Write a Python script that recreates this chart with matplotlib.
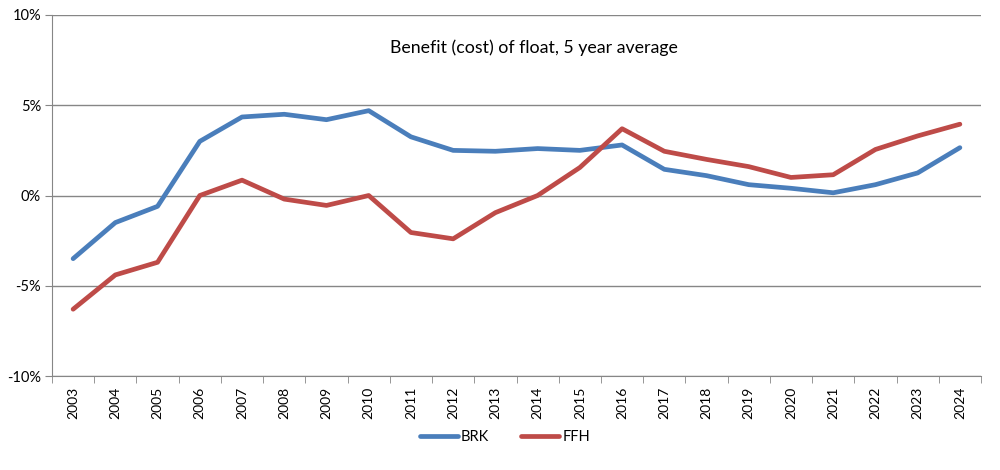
"""Benefit (cost) of float, 5 year average: BRK vs FFH."""
import matplotlib
import numpy as np

matplotlib.use("Agg")
from matplotlib import pyplot as plt
from matplotlib.ticker import FixedLocator, FuncFormatter

years = [str(y) for y in range(2003, 2025)]
brk = [-3.5, -1.5, -0.6, 3.0, 4.35, 4.5, 4.2, 4.7, 3.25, 2.5, 2.45,
       2.6, 2.5, 2.8, 1.45, 1.1, 0.6, 0.4, 0.15, 0.6, 1.25, 2.65]
ffh = [-6.3, -4.4, -3.7, 0.0, 0.85, -0.2, -0.55, 0.0, -2.05, -2.4, -0.95,
       0.0, 1.55, 3.7, 2.45, 2.0, 1.6, 1.0, 1.15, 2.55, 3.3, 3.95]
y_ticks = [-10, -5, 0, 5, 10]

plt.rcParams["font.family"] = ["Lato", "DejaVu Sans"]
grid_color = "#868686"

fig = plt.figure(figsize=(10, 4.7), dpi=100)
ax = fig.add_axes([0.052, 1 - 376 / 470, 0.929, 361 / 470])

x = np.arange(len(years))
ax.plot(x, brk, color="#4A7EBB", linewidth=3.4, label="BRK", solid_capstyle="round")
ax.plot(x, ffh, color="#BE4B48", linewidth=3.4, label="FFH", solid_capstyle="round")

ax.set_xlim(-0.5, len(years) - 0.5)
ax.set_ylim(-10, 10)
ax.set_yticks(y_ticks)
ax.yaxis.set_major_formatter(FuncFormatter(lambda v, _: f"{v:.0f}%"))
ax.set_xticks(x)
ax.set_xticklabels(years, rotation=90)
ax.xaxis.set_minor_locator(FixedLocator(np.arange(-0.5, len(years), 1.0)))
ax.tick_params(axis="x", which="major", length=0, pad=8, labelsize=10)
ax.tick_params(axis="x", which="minor", length=5, color=grid_color, direction="out")
ax.tick_params(axis="y", length=5, color=grid_color, labelsize=10.5, pad=3)

ax.grid(True, axis="y", color=grid_color, linewidth=1.0)
ax.set_axisbelow(True)
for side in ("top", "right"):
    ax.spines[side].set_visible(False)
for side in ("left", "bottom"):
    ax.spines[side].set_color(grid_color)

ax.text(0.519, 0.91, "Benefit (cost) of float, 5 year average", transform=ax.transAxes,
        ha="center", va="center", fontsize=12.8)

fig.legend(loc="center", bbox_to_anchor=(0.505, 1 - 437 / 470), ncols=2, frameon=False,
           fontsize=10.5, handlelength=2.6, handletextpad=0.2, columnspacing=2.2)

fig.savefig("out.png")
plt.close(fig)
